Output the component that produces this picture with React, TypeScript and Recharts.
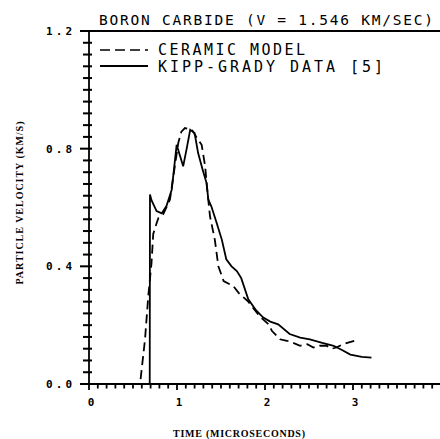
import React from 'react';
import { LineChart, Line, XAxis, YAxis, ReferenceLine, Legend } from 'recharts';

// Kipp-Grady measured particle velocity (solid)
const kgTime = [0, 0.69, 0.693, 0.71, 0.768, 0.826, 0.88, 0.94, 0.996, 1.04, 1.07, 1.11, 1.15, 1.2, 1.24, 1.29, 1.336, 1.356, 1.39, 1.45, 1.51, 1.56, 1.62, 1.68, 1.73, 1.81, 1.9, 1.98, 2.06, 2.15, 2.28, 2.4, 2.51, 2.65, 2.78, 2.88, 2.97, 3.1, 3.21];
const kgVel = [0, 0, 0.644, 0.625, 0.588, 0.58, 0.605, 0.66, 0.813, 0.77, 0.74, 0.8, 0.864, 0.853, 0.785, 0.73, 0.683, 0.627, 0.604, 0.548, 0.49, 0.424, 0.4, 0.384, 0.36, 0.288, 0.25, 0.226, 0.212, 0.203, 0.17, 0.158, 0.152, 0.14, 0.13, 0.115, 0.1, 0.092, 0.09];

// ceramic model (dashed)
const cmTime = [0, 0.58, 0.636, 0.674, 0.71, 0.73, 0.77, 0.79, 0.845, 0.92, 0.98, 1.015, 1.05, 1.09, 1.17, 1.22, 1.28, 1.32, 1.34, 1.375, 1.43, 1.47, 1.53, 1.64, 1.7, 1.81, 1.94, 2.04, 2.08, 2.17, 2.25, 2.32, 2.4, 2.48, 2.55, 2.62, 2.7, 2.76, 2.81, 2.89, 3.02];
const cmVel = [0, 0, 0.15, 0.3, 0.41, 0.51, 0.548, 0.565, 0.578, 0.627, 0.75, 0.82, 0.858, 0.87, 0.864, 0.84, 0.813, 0.74, 0.672, 0.57, 0.49, 0.4, 0.35, 0.333, 0.31, 0.28, 0.23, 0.203, 0.18, 0.152, 0.147, 0.14, 0.13, 0.135, 0.124, 0.13, 0.13, 0.12, 0.124, 0.136, 0.147];

const yLabels = [0, 0.4, 0.8, 1.2];
const xLabels = [0, 1, 2, 3, 4];

const kgData = kgTime.map((t, i) => ({ t, v: kgVel[i] }));
const cmData = cmTime.map((t, i) => ({ t, v: cmVel[i] }));

// minor tick positions (every 0.04 on y, every 0.1 on x)
const yTicks = Array.from({ length: 31 }, (_, i) => Math.round(i * 4) / 100);
const xTicks = Array.from({ length: 41 }, (_, i) => Math.round(i * 10) / 100);

const plotFont = '"DejaVu Sans Mono", "Liberation Mono", monospace';
const ink = '#000';

const isMajor = (list: number[], v: number) => list.some((m) => Math.abs(m - v) < 1e-6);

// y ticks cross the axis, longer on the outside; x here is the tick end left of the axis
const renderYTick = (props: any) => {
  const x = Number(props.x);
  const y = Number(props.y);
  const { payload } = props;
  const major = isMajor(yLabels, payload.value);
  const left = major ? x - 4 : x - 1;
  const right = x + 8;
  return (
    <g>
      <rect x={left} y={y - 1} width={right - left} height={2} fill={ink} />
      {major && (
        <text x={x - 12} y={y + 4} textAnchor="end" fontFamily={plotFont} fontSize={11} fontWeight="bold" fill={ink} textLength={26}>
          {payload.value.toFixed(1)}
        </text>
      )}
    </g>
  );
};

const renderXTick = (props: any) => {
  const x = Number(props.x);
  const y = Number(props.y);
  const { payload } = props;
  const major = isMajor(xLabels, payload.value);
  return (
    <g>
      <rect x={x - 0.9} y={y - 4} width={1.8} height={major ? 6 : 4.5} fill={ink} />
      {major && (
        <text x={x + 2} y={y + 18} textAnchor="middle" fontFamily={plotFont} fontSize={11} fontWeight="bold" fill={ink}>
          {payload.value}
        </text>
      )}
    </g>
  );
};

const LegendBox = () => (
  <svg width={300} height={40}>
    <line x1={2} x2={50} y1={10} y2={10} stroke={ink} strokeWidth={1.6} strokeDasharray="10 5" />
    <text x={60} y={15} fontFamily={plotFont} fontSize={15} fill={ink} textLength={147}>CERAMIC MODEL</text>
    <line x1={2} x2={50} y1={26} y2={26} stroke={ink} strokeWidth={1.8} />
    <text x={60} y={32} fontFamily={plotFont} fontSize={15} fill={ink} textLength={225}>KIPP-GRADY DATA [5]</text>
  </svg>
);

export default function App() {
  return (
    <div style={{ position: 'absolute', left: 0, top: 0, width: 440, height: 439, overflow: 'hidden', background: '#fff' }}>
      <LineChart width={460} height={439} margin={{ top: 31, right: 19, left: 0, bottom: 25 }}>
        <XAxis
          type="number"
          dataKey="t"
          domain={[0, 4]}
          ticks={xTicks}
          interval={0}
          tick={renderXTick}
          tickLine={false}
          tickSize={4}
          tickMargin={0}
          height={30}
          axisLine={{ stroke: ink, strokeWidth: 1.8 }}
        />
        <YAxis
          type="number"
          dataKey="v"
          domain={[0, 1.2]}
          ticks={yTicks}
          interval={0}
          tick={renderYTick}
          tickLine={false}
          tickSize={5}
          tickMargin={0}
          width={89}
          axisLine={{ stroke: ink, strokeWidth: 1.8 }}
        />
        <ReferenceLine y={1.2} stroke={ink} strokeWidth={1.8} />
        <Legend verticalAlign="middle" layout="horizontal" content={<LegendBox />} wrapperStyle={{ position: 'absolute', left: 98, top: 40, width: 300 }} />
        <Line data={cmData} dataKey="v" name="CERAMIC MODEL" type="linear" stroke={ink} strokeWidth={1.8} strokeDasharray="9 5" dot={false} isAnimationActive={false} />
        <Line data={kgData} dataKey="v" name="KIPP-GRADY DATA [5]" type="linear" stroke={ink} strokeWidth={1.8} dot={false} isAnimationActive={false} />
        <text x={99} y={25} fontFamily={plotFont} fontSize={14.5} fill={ink} textLength={334}>BORON CARBIDE (V = 1.546 KM/SEC)</text>
        <text x={239} y={437} textAnchor="middle" fontFamily='"Liberation Serif", serif' fontSize={10} fontWeight="bold" fill={ink} textLength={132}>TIME (MICROSECONDS)</text>
        <text x={0} y={0} transform="translate(23 203) rotate(-90)" textAnchor="middle" fontFamily='"Liberation Serif", serif' fontSize={10} fontWeight="bold" fill={ink} textLength={163}>PARTICLE VELOCITY (KM/S)</text>
      </LineChart>
    </div>
  );
}
